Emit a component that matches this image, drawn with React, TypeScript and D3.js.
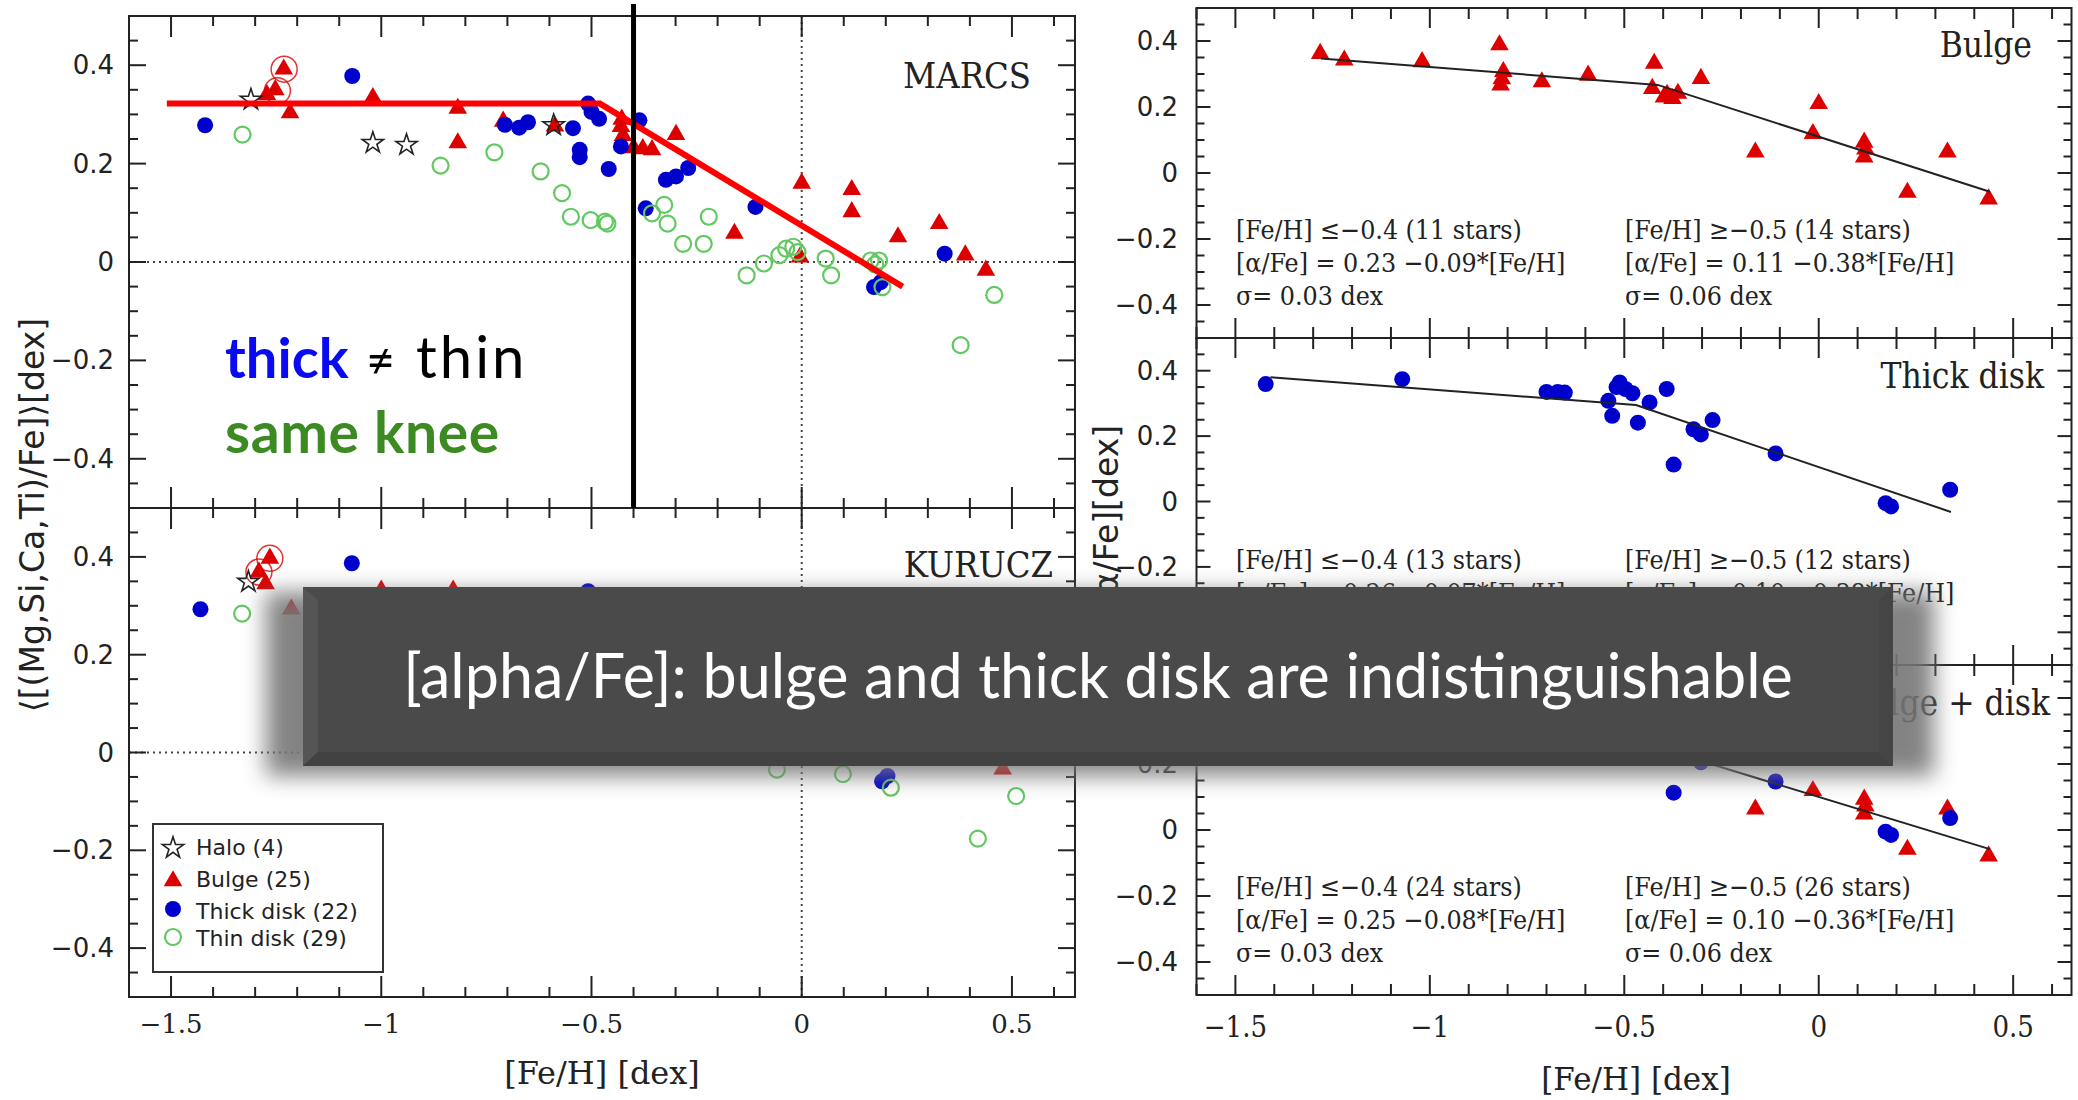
import React from "react";
import * as d3 from "d3";

type Pt = [number, number];

// MARCS panel (upper left), [Fe/H], <[alpha/Fe]>
const marcsHalo: Pt[] = [[-1.31, 0.33], [-1.02, 0.242], [-0.94, 0.238], [-0.59, 0.278]];
const marcsBulge: Pt[] = [
  [-1.232, 0.392], [-1.252, 0.35], [-1.272, 0.34], [-1.217, 0.303], [-1.02, 0.334], [-0.818, 0.312],
  [-0.818, 0.242], [-0.71, 0.286], [-0.587, 0.276], [-0.428, 0.29], [-0.425, 0.257], [-0.378, 0.23],
  [-0.356, 0.228], [-0.299, 0.259], [-0.16, 0.058], [0.0, 0.16], [0.119, 0.147], [0.119, 0.102],
  [0.229, 0.051], [0.327, 0.078], [0.389, 0.014], [0.438, -0.017], [-0.004, 0.01], [-0.4, 0.232], [-0.43, 0.275],
];
const marcsCircled: Pt[] = [[-1.231, 0.392], [-1.247, 0.348]];
const marcsThick: Pt[] = [
  [-1.419, 0.278], [-1.069, 0.378], [-0.706, 0.279], [-0.672, 0.273], [-0.651, 0.284], [-0.544, 0.272],
  [-0.508, 0.322], [-0.5, 0.305], [-0.482, 0.291], [-0.528, 0.228], [-0.528, 0.213], [-0.459, 0.189],
  [-0.43, 0.235], [-0.386, 0.288], [-0.323, 0.167], [-0.299, 0.174], [-0.27, 0.191], [-0.371, 0.109],
  [-0.11, 0.112], [0.172, -0.051], [0.188, -0.041], [0.34, 0.017],
];
const marcsThin: Pt[] = [
  [-1.33, 0.259], [-0.859, 0.196], [-0.731, 0.223], [-0.621, 0.184], [-0.57, 0.14], [-0.549, 0.092],
  [-0.502, 0.085], [-0.468, 0.082], [-0.462, 0.078], [-0.356, 0.099], [-0.327, 0.116], [-0.319, 0.078],
  [-0.282, 0.037], [-0.233, 0.037], [-0.221, 0.092], [-0.131, -0.027], [-0.09, -0.003], [-0.053, 0.014],
  [-0.037, 0.027], [-0.02, 0.031], [0.057, 0.007], [0.07, -0.027], [0.164, 0.003], [0.184, 0.003],
  [0.192, -0.051], [0.458, -0.067], [0.378, -0.169], [-0.01, 0.02], [0.175, -0.005],
];
const kneeLine: Pt[] = [[-1.51, 0.322], [-0.48, 0.322], [0.24, -0.05]];
const kneeFeH = -0.4;

// KURUCZ panel (lower left)
const kurHalo: Pt[] = [[-1.316, 0.349], [-1.0, 0.24], [-0.93, 0.235], [-0.59, 0.27]];
const kurBulge: Pt[] = [
  [-1.265, 0.397], [-1.291, 0.369], [-1.275, 0.345], [-1.214, 0.293], [-1.0, 0.332], [-0.829, 0.332],
  [0.478, -0.034], [-0.82, 0.24], [-0.71, 0.28], [-0.59, 0.27], [-0.43, 0.28], [-0.42, 0.25],
  [-0.37, 0.22], [-0.3, 0.25], [-0.16, 0.05], [0.0, 0.15], [0.12, 0.14], [0.12, 0.1], [0.23, 0.05],
  [0.33, 0.07], [0.39, 0.01], [0.0, 0.01],
];
const kurCircled: Pt[] = [[-1.265, 0.397], [-1.291, 0.369]];
const kurThick: Pt[] = [
  [-1.43, 0.293], [-1.07, 0.387], [-0.508, 0.33], [0.191, -0.059], [0.204, -0.048], [-0.7, 0.28],
  [-0.67, 0.27], [-0.65, 0.28], [-0.54, 0.27], [-0.48, 0.29], [-0.53, 0.22], [-0.46, 0.19],
  [-0.43, 0.23], [-0.39, 0.28], [-0.32, 0.16], [-0.3, 0.17], [-0.27, 0.19], [-0.37, 0.1],
  [-0.11, 0.1], [0.34, 0.01],
];
const kurThin: Pt[] = [
  [-1.331, 0.284], [-0.059, -0.035], [0.098, -0.044], [0.212, -0.072], [0.51, -0.089], [0.419, -0.176],
  [-0.86, 0.19], [-0.73, 0.22], [-0.62, 0.18], [-0.57, 0.13], [-0.55, 0.09], [-0.5, 0.08], [-0.47, 0.08],
  [-0.33, 0.11], [-0.35, 0.09], [-0.32, 0.07], [-0.28, 0.03], [-0.23, 0.03], [-0.22, 0.09],
  [-0.13, 0.0], [-0.09, 0.0], [-0.04, 0.02], [0.06, 0.01], [0.16, 0.0], [0.18, 0.0],
];

// right panels
const bulgeStars: Pt[] = [
  [-1.282, 0.362], [-1.22, 0.342], [-1.02, 0.337], [-0.821, 0.388], [-0.811, 0.307], [-0.818, 0.266],
  [-0.815, 0.285], [-0.712, 0.276], [-0.593, 0.296], [-0.423, 0.332], [-0.428, 0.256], [-0.398, 0.23],
  [-0.376, 0.225], [-0.362, 0.241], [-0.39, 0.238], [-0.303, 0.286], [-0.163, 0.063], [0.0, 0.21],
  [-0.015, 0.119], [0.117, 0.093], [0.12, 0.072], [0.117, 0.048], [0.228, -0.059], [0.331, 0.063],
  [0.437, -0.079],
];
const thickStars: Pt[] = [
  [-1.422, 0.359], [-1.071, 0.374], [-0.7, 0.335], [-0.671, 0.335], [-0.653, 0.333], [-0.541, 0.308],
  [-0.531, 0.262], [-0.52, 0.35], [-0.512, 0.364], [-0.497, 0.344], [-0.479, 0.331], [-0.465, 0.241],
  [-0.435, 0.303], [-0.391, 0.344], [-0.373, 0.113], [-0.322, 0.221], [-0.303, 0.205], [-0.273, 0.249],
  [-0.111, 0.147], [0.172, -0.005], [0.186, -0.015], [0.338, 0.036],
];
const bulgeFit: Pt[] = [[-1.28, 0.347], [-0.414, 0.267], [0.44, -0.057]];
const thickFit: Pt[] = [[-1.41, 0.38], [-0.47, 0.295], [0.34, -0.032]];
const allFit: Pt[] = [[-1.42, 0.364], [-0.536, 0.293], [0.44, -0.058]];

const xTickVals = [-1.5, -1, -0.5, 0, 0.5];
const xTickText = ["\u22121.5", "\u22121", "\u22120.5", "0", "0.5"];
const yTickVals = [-0.4, -0.2, 0, 0.2, 0.4];
const yTickText = ["\u22120.4", "\u22120.2", "0", "0.2", "0.4"];

const legendLabels = ["Halo (4)", "Bulge (25)", "Thick disk (22)", "Thin disk (29)"];
const panelNames = ["Bulge", "Thick disk", "Bulge + disk"];
const notesLeft = [
  ["[Fe/H] \u2264\u22120.4 (11 stars)", "[\u03b1/Fe] = 0.23 \u22120.09*[Fe/H]", "\u03c3= 0.03 dex"],
  ["[Fe/H] \u2264\u22120.4 (13 stars)", "[\u03b1/Fe] = 0.26 \u22120.07*[Fe/H]", "\u03c3= 0.03 dex"],
  ["[Fe/H] \u2264\u22120.4 (24 stars)", "[\u03b1/Fe] = 0.25 \u22120.08*[Fe/H]", "\u03c3= 0.03 dex"],
];
const notesRight = [
  ["[Fe/H] \u2265\u22120.5 (14 stars)", "[\u03b1/Fe] = 0.11 \u22120.38*[Fe/H]", "\u03c3= 0.06 dex"],
  ["[Fe/H] \u2265\u22120.5 (12 stars)", "[\u03b1/Fe] = 0.10 \u22120.38*[Fe/H]", "\u03c3= 0.05 dex"],
  ["[Fe/H] \u2265\u22120.5 (26 stars)", "[\u03b1/Fe] = 0.10 \u22120.36*[Fe/H]", "\u03c3= 0.06 dex"],
];
const bannerText = "[alpha/Fe]: bulge and thick disk are indistinguishable";

const SANS = "'DejaVu Sans', sans-serif";
const SERIF = "'DejaVu Serif', serif";
const SERIFC = "'DejaVu Serif Condensed', 'DejaVu Serif', serif";
const SLIDE = "Lato, 'Open Sans', sans-serif";

const RED = "#dd0000";
const BLUE = "#0000cc";
const GREEN = "#62c862";

const triPath = d3.symbol(d3.symbolTriangle, 150)() as string;
const starPath = d3.symbol(d3.symbolStar, 140)() as string;

const xMinor = d3.range(-16, 7).map((i) => i / 10);
const yMinor = d3.range(-10, 11).map((i) => i / 20);

type Sc = d3.ScaleLinear<number, number>;

function Frame({ x, y, xs, ys }: { x: Sc; y: Sc; xs: number[]; ys: number[] }) {
  const [x0, x1] = x.range();
  const [y0, y1] = y.range();
  const isMaj = (v: number, list: number[]) => list.some((m) => Math.abs(m - v) < 1e-6);
  return (
    <g stroke="#222" strokeWidth={2} fill="none">
      <rect x={x0} y={y1} width={x1 - x0} height={y0 - y1} />
      {xMinor.map((v) => {
        const len = isMaj(v, xTickVals) ? xs[1] : xs[0];
        return (
          <g key={"x" + v}>
            <line x1={x(v)} x2={x(v)} y1={y0} y2={y0 - len} />
            <line x1={x(v)} x2={x(v)} y1={y1} y2={y1 + len} />
          </g>
        );
      })}
      {yMinor.map((v) => {
        const len = isMaj(v, yTickVals) ? ys[1] : ys[0];
        return (
          <g key={"y" + v}>
            <line x1={x0} x2={x0 + len} y1={y(v)} y2={y(v)} />
            <line x1={x1} x2={x1 - len} y1={y(v)} y2={y(v)} />
          </g>
        );
      })}
    </g>
  );
}

function Marks({ x, y, halo, bulge, circled, thick, thin }: {
  x: Sc; y: Sc; halo?: Pt[]; bulge?: Pt[]; circled?: Pt[]; thick?: Pt[]; thin?: Pt[];
}) {
  return (
    <g>
      {(bulge || []).map((d, i) => (
        <path key={"b" + i} d={triPath} fill={RED} transform={`translate(${x(d[0])},${y(d[1])})`} />
      ))}
      {(circled || []).map((d, i) => (
        <circle key={"c" + i} cx={x(d[0])} cy={y(d[1])} r={13} fill="none" stroke={RED} strokeWidth={1.5} opacity={0.8} />
      ))}
      {(thick || []).map((d, i) => (
        <circle key={"t" + i} cx={x(d[0])} cy={y(d[1])} r={8} fill={BLUE} />
      ))}
      {(thin || []).map((d, i) => (
        <circle key={"n" + i} cx={x(d[0])} cy={y(d[1])} r={8} fill="none" stroke={GREEN} strokeWidth={2.2} />
      ))}
      {(halo || []).map((d, i) => (
        <path key={"h" + i} d={starPath} fill="none" stroke="#222" strokeWidth={1.6}
          transform={`translate(${x(d[0])},${y(d[1])})`} />
      ))}
    </g>
  );
}

export default function App() {
  const xL = d3.scaleLinear().domain([-1.6, 0.65]).range([129, 1075]);
  const yMarcs = d3.scaleLinear().domain([-0.5, 0.5]).range([508, 16]);
  const yKur = d3.scaleLinear().domain([-0.5, 0.5]).range([997, 508]);
  const xR = d3.scaleLinear().domain([-1.6, 0.65]).range([1196.5, 2071.5]);
  const yR = [[338, 8], [665, 338], [995, 665]].map((r) => d3.scaleLinear().domain([-0.5, 0.5]).range(r));

  const path = (x: Sc, y: Sc, pts: Pt[]) =>
    d3.line<Pt>().x((d) => x(d[0])).y((d) => y(d[1]))(pts) as string;

  const dotted = { stroke: "#444", strokeWidth: 2, strokeDasharray: "2 4" };

  return (
    <svg width={2078} height={1100} style={{ position: "absolute", left: 0, top: 0, background: "#fff" }}>
      <defs>
        <filter id="shade" x="-10%" y="-40%" width="120%" height="180%">
          <feGaussianBlur stdDeviation="11" />
        </filter>
      </defs>

      {/* ---- left figure ---- */}
      <line x1={xL(0)} x2={xL(0)} y1={16} y2={997} {...dotted} />
      <line x1={129} x2={1075} y1={yMarcs(0)} y2={yMarcs(0)} {...dotted} />
      <line x1={129} x2={1075} y1={yKur(0)} y2={yKur(0)} {...dotted} />
      <Frame x={xL} y={yMarcs} xs={[10, 21]} ys={[9, 17]} />
      <Frame x={xL} y={yKur} xs={[10, 21]} ys={[9, 17]} />

      <Marks x={xL} y={yMarcs} halo={marcsHalo} bulge={marcsBulge} circled={marcsCircled} thick={marcsThick} thin={marcsThin} />
      <Marks x={xL} y={yKur} halo={kurHalo} bulge={kurBulge} circled={kurCircled} thick={kurThick} thin={kurThin} />

      {yTickVals.map((v, i) => (
        <g key={"yl" + i} fontFamily={SANS} fontSize={26} fill="#222" textAnchor="end">
          <text x={114} y={yMarcs(v) + 9}>{yTickText[i]}</text>
          <text x={114} y={yKur(v) + 9}>{yTickText[i]}</text>
        </g>
      ))}
      {xTickVals.map((v, i) => (
        <text key={"xl" + i} x={xL(v)} y={1033} fontFamily={SERIF} fontSize={26} fill="#222" textAnchor="middle">
          {xTickText[i]}
        </text>
      ))}
      <text x={602} y={1084} fontFamily={SERIF} fontSize={32} fill="#222" textAnchor="middle">[Fe/H] [dex]</text>
      <text transform="translate(44,515) rotate(-90)" fontFamily={SANS} fontSize={33} fill="#222" textAnchor="middle">
        {"\u27e8[(Mg,Si,Ca,Ti)/Fe]\u27e9[dex]"}
      </text>
      <text x={1031} y={88} fontFamily={SERIFC} fontSize={36} fill="#222" textAnchor="end">MARCS</text>
      <text x={1053} y={577} fontFamily={SERIFC} fontSize={36} fill="#222" textAnchor="end">KURUCZ</text>

      {/* legend */}
      <rect x={153} y={824} width={230} height={148} fill="#fff" stroke="#333" strokeWidth={2} />
      <path d={starPath} transform="translate(173,848)" fill="none" stroke="#222" strokeWidth={1.6} />
      <path d={triPath} transform="translate(173,881)" fill={RED} />
      <circle cx={173} cy={909} r={8} fill={BLUE} />
      <circle cx={173} cy={937} r={8} fill="none" stroke={GREEN} strokeWidth={2.2} />
      {legendLabels.map((t, i) => (
        <text key={t} x={196} y={[855, 887, 919, 946][i]} fontFamily={SANS} fontSize={22} fill="#222">{t}</text>
      ))}

      {/* knee annotation */}
      <path d={path(xL, yMarcs, kneeLine)} fill="none" stroke="#ff0000" strokeWidth={6} />
      <line x1={xL(kneeFeH)} x2={xL(kneeFeH)} y1={4} y2={508} stroke="#000" strokeWidth={5} />
      <text x={225} y={378} fontFamily={SLIDE} fontSize={56} fontWeight="bold" fill="#0a0af0">thick</text>
      <text x={366} y={378} fontFamily={SLIDE} fontSize={50} fill="#000">{"\u2260"}</text>
      <text x={416} y={378} fontFamily={SLIDE} fontSize={58} fill="#000" letterSpacing={3}>thin</text>
      <text x={225} y={453} fontFamily={SLIDE} fontSize={57} fontWeight="bold" fill="#3b8b22" letterSpacing={0.6}>same knee</text>

      {/* ---- right figure ---- */}
      {yR.map((y, p) => (
        <g key={"p" + p}>
          <Frame x={xR} y={y} xs={[11, 20]} ys={[8, 14]} />
          {yTickVals.map((v, i) => (
            <text key={i} x={1178} y={y(v) + 9} fontFamily={SANS} fontSize={26} fill="#222" textAnchor="end">
              {yTickText[i]}
            </text>
          ))}
          <text x={[2032, 2044, 2050][p]} y={y.range()[1] + [49, 50, 50][p]} fontFamily={SERIFC} fontSize={35}
            fill="#222" textAnchor="end">{panelNames[p]}</text>
          {notesLeft[p].map((t, i) => (
            <text key={"nl" + i} x={1236} y={y.range()[1] + 231 + i * 33} fontFamily={SERIFC} fontSize={26.5} fill="#222">{t}</text>
          ))}
          {notesRight[p].map((t, i) => (
            <text key={"nr" + i} x={1625} y={y.range()[1] + 231 + i * 33} fontFamily={SERIFC} fontSize={26.5} fill="#222">{t}</text>
          ))}
        </g>
      ))}
      <Marks x={xR} y={yR[0]} bulge={bulgeStars} />
      <path d={path(xR, yR[0], bulgeFit)} fill="none" stroke="#222" strokeWidth={2} />
      <Marks x={xR} y={yR[1]} thick={thickStars} />
      <path d={path(xR, yR[1], thickFit)} fill="none" stroke="#222" strokeWidth={2} />
      <Marks x={xR} y={yR[2]} bulge={bulgeStars} thick={thickStars} />
      <path d={path(xR, yR[2], allFit)} fill="none" stroke="#222" strokeWidth={2} />
      {xTickVals.map((v, i) => (
        <text key={"xr" + i} x={xR(v)} y={1037} fontFamily={SERIFC} fontSize={29} fill="#222" textAnchor="middle">
          {xTickText[i]}
        </text>
      ))}
      <text x={1636} y={1090} fontFamily={SERIF} fontSize={31} fill="#222" textAnchor="middle">[Fe/H] [dex]</text>
      <text transform="translate(1118,516) rotate(-90)" fontFamily={SANS} fontSize={33} fill="#222" textAnchor="middle">
        [{"\u03b1"}/Fe][dex]
      </text>

      {/* ---- slide banner ---- */}
      <rect x={266} y={592} width={1668} height={184} fill="#767676" opacity={0.9} filter="url(#shade)" />
      <rect x={303} y={587} width={1590} height={179} fill="#4a4a4a" />
      <polygon points="303,587 318,600 318,752 303,766" fill="#555" />
      <polygon points="303,766 318,752 1879,752 1893,766" fill="#424242" />
      <polygon points="1893,587 1879,600 1879,752 1893,766" fill="#454545" />
      <text x={1098} y={698} fontFamily={SLIDE} fontSize={61} fill="#fff" textAnchor="middle">{bannerText}</text>
    </svg>
  );
}
